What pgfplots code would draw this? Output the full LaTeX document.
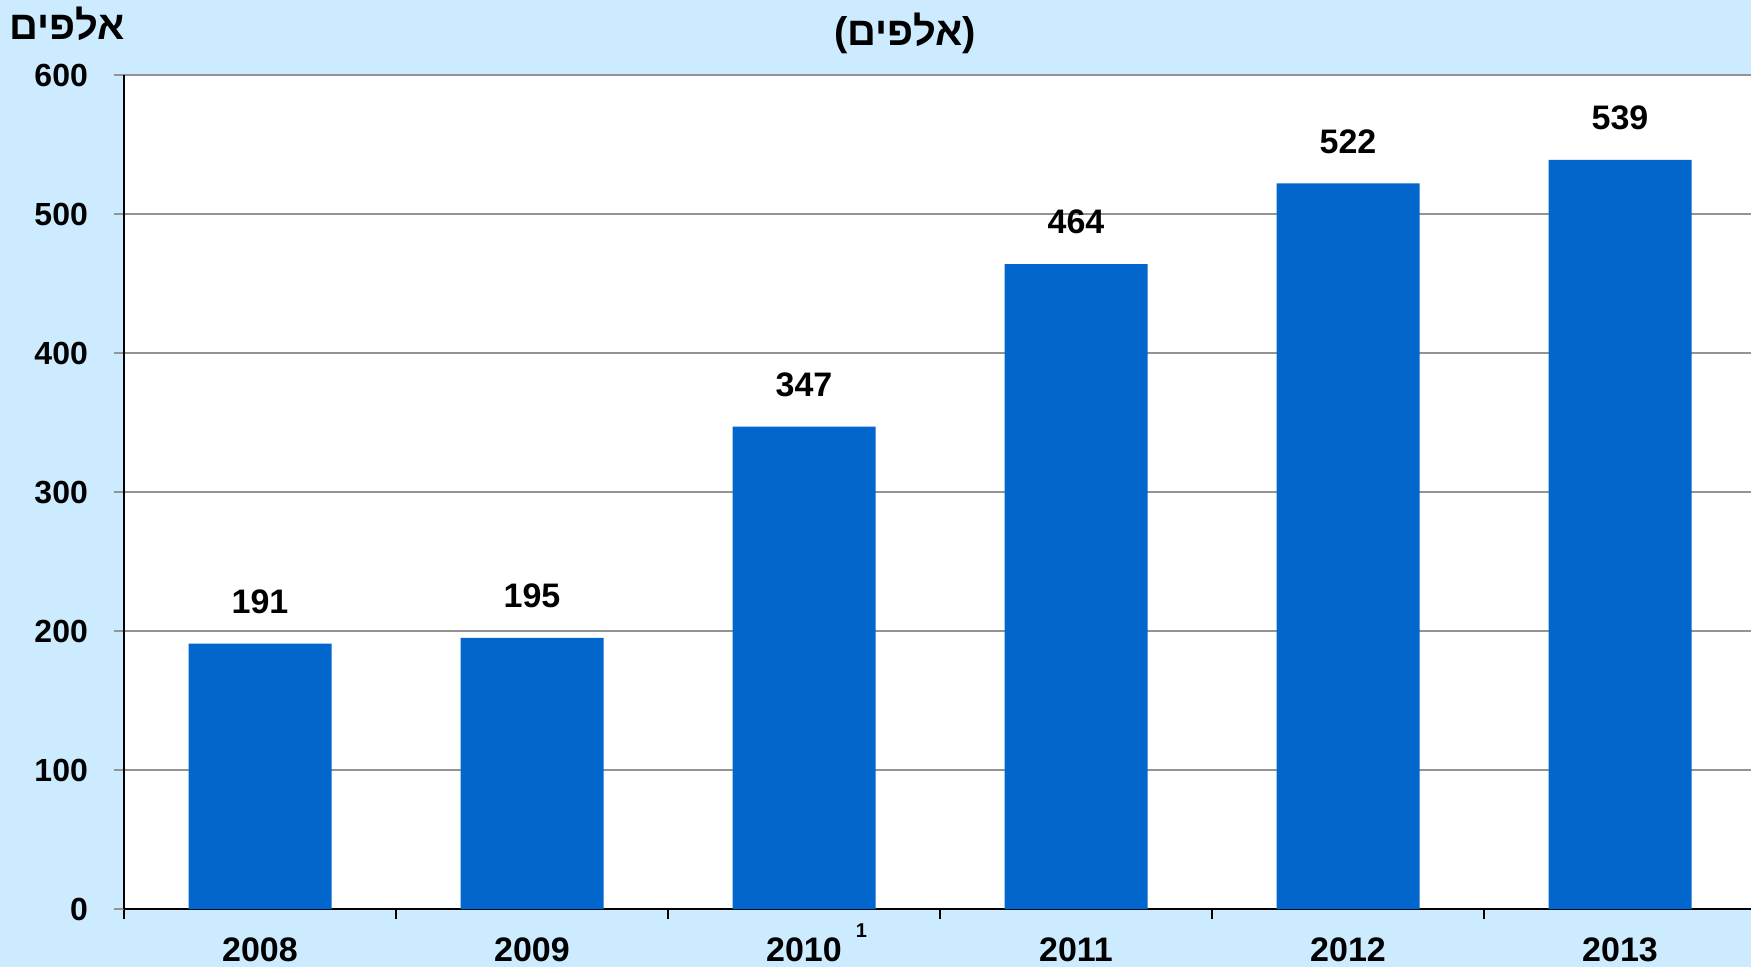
\documentclass[border=0pt]{standalone}
\usepackage{fontspec}
\setmainfont{Liberation Sans}
\newfontfamily\hebfont[Script=Hebrew]{Liberation Sans}
\TeXXeTstate=1
\usepackage{pgfplots}
\pgfplotsset{compat=1.18}
\definecolor{bgblue}{RGB}{204,235,255}
\definecolor{barblue}{RGB}{3,102,204}
\begin{document}
\begin{tikzpicture}
\fill[bgblue] (-31pt,-14.5pt) rectangle (406.75pt,227.25pt);
\useasboundingbox (-31pt,-14.5pt) rectangle (406.75pt,227.25pt);
\begin{axis}[
  at={(0pt,0pt)}, anchor=south west,
  scale only axis, width=408pt, height=208.5pt,
  xmin=-0.5, xmax=5.5, ymin=0, ymax=600,
  axis background/.style={fill=white},
  axis x line*=bottom, axis y line*=left,
  axis line style={-, black, line width=0.6pt},
  /pgf/number format/assume math mode=true,
  ybar, bar width=35.75pt,
  ytick={0,100,...,600},
  ymajorgrids, grid style={draw=gray!85, line width=0.5pt},
  xtick={0,1,2,3,4,5},
  xticklabels={2008,2009,{2010\rlap{\hspace{3.5pt}\smash{\raisebox{6pt}{\fontsize{5}{6}\selectfont 1}}}},2011,2012,2013},
  minor xtick={-0.5,0.5,1.5,2.5,3.5,4.5,5.5},
  major x tick style={draw=none},
  minor x tick style={black, line width=0.5pt},
  major y tick style={gray!85, line width=0.5pt},
  tick align=outside, major tick length=2.5pt, minor tick length=2.5pt,
  xticklabel style={font=\fontsize{8.5}{10}\selectfont\bfseries, yshift=-1.2pt},
  yticklabel style={font=\fontsize{8}{10}\selectfont\bfseries, xshift=-3pt},
  nodes near coords,
  every node near coord/.append style={font=\fontsize{8.5}{10}\selectfont\bfseries, anchor=center, yshift=10.5pt, black},
  clip=false,
]
\addplot[fill=barblue, draw=none] coordinates {(0,191) (1,195) (2,347) (3,464) (4,522) (5,539)};
\end{axis}
\node[font=\fontsize{10}{12}\selectfont\bfseries, inner sep=0pt] at (195.25pt,219pt) {\mbox{(}\mbox{\hebfont\bfseries\beginR אלפים\endR}\mbox{)}};
\node[font=\hebfont\fontsize{10}{12}\selectfont\bfseries, inner sep=0pt] at (-14.25pt,221.25pt) {\mbox{\beginR אלפים\endR}};
\end{tikzpicture}
\end{document}
